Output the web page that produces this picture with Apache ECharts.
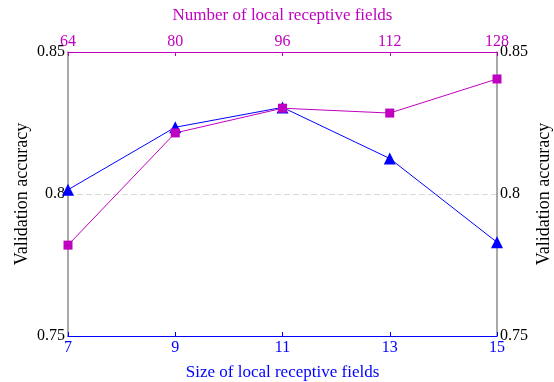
<!DOCTYPE html>
<html>
<head>
<meta charset="utf-8">
<script src="https://cdn.jsdelivr.net/npm/echarts@6/dist/echarts.min.js"></script>
<style>
  html, body { margin: 0; padding: 0; background: #fff; }
  #main { width: 554px; height: 382px; }
</style>
</head>
<body>
<div id="main"></div>
<script>
// bottom axis: size of local receptive fields
var sizes = [7, 9, 11, 13, 15];
var sizeAcc = [0.8015, 0.8235, 0.8305, 0.8125, 0.783];
// top axis: number of local receptive fields
var counts = [64, 80, 96, 112, 128];
var countAcc = [0.782, 0.8215, 0.8302, 0.8285, 0.8405];

var FONT = 'Liberation Serif';
var BLUE = '#0000ff';
var MAGENTA = '#c000c0';
var GREY = '#8c8c8c';

function pairs(xs, ys) {
  return xs.map(function (x, i) { return [x, ys[i]]; });
}

var myChart = echarts.init(document.getElementById('main'));

var yCommon = {
  type: 'value',
  min: 0.75,
  max: 0.85,
  interval: 0.05,
  name: 'Validation accuracy',
  nameLocation: 'middle',
  nameRotate: 90,
  nameMoveOverlap: false,
  nameTextStyle: { fontFamily: FONT, fontSize: 18, color: '#000' },
  axisLine: { show: true, lineStyle: { color: GREY, width: 1.5 } },
  axisTick: { show: false },
  axisLabel: { fontFamily: FONT, fontSize: 16, color: '#000', margin: 3 }
};

myChart.setOption({
  animation: false,
  grid: { left: 68, right: 57, top: 52, bottom: 46, outerBoundsMode: 'none' },
  xAxis: [{
    type: 'value',
    position: 'bottom',
    min: 7, max: 15, interval: 2,
    name: 'Size of local receptive fields',
    nameLocation: 'middle',
    nameGap: 28,
    nameTextStyle: { fontFamily: FONT, fontSize: 17, color: BLUE },
    axisLine: { lineStyle: { color: BLUE, width: 1 } },
    axisTick: { inside: true, length: 4, lineStyle: { color: BLUE } },
    axisLabel: { fontFamily: FONT, fontSize: 16, color: BLUE, margin: 4 },
    splitLine: { show: false }
  }, {
    type: 'value',
    position: 'top',
    min: 64, max: 128, interval: 16,
    name: 'Number of local receptive fields',
    nameLocation: 'middle',
    nameGap: 28,
    nameTextStyle: { fontFamily: FONT, fontSize: 17, color: MAGENTA },
    axisLine: { lineStyle: { color: MAGENTA, width: 1 } },
    axisTick: { inside: true, length: 4, lineStyle: { color: MAGENTA } },
    axisLabel: { fontFamily: FONT, fontSize: 16, color: MAGENTA, margin: 2 },
    splitLine: { show: false }
  }],
  yAxis: [
    Object.assign({}, yCommon, {
      position: 'left',
      nameGap: 37,
      splitLine: { show: true, lineStyle: { color: '#d8d8d8', type: [6, 3], width: 1 } }
    }),
    Object.assign({}, yCommon, {
      position: 'right',
      nameGap: 38,
      splitLine: { show: false }
    })
  ],
  series: [{
    name: 'size',
    type: 'line',
    xAxisIndex: 0,
    yAxisIndex: 0,
    data: pairs(sizes, sizeAcc),
    symbol: 'triangle',
    symbolSize: 12,
    itemStyle: { color: BLUE },
    lineStyle: { color: BLUE, width: 1 }
  }, {
    name: 'count',
    type: 'line',
    xAxisIndex: 1,
    yAxisIndex: 0,
    data: pairs(counts, countAcc),
    symbol: 'rect',
    symbolSize: 9,
    itemStyle: { color: MAGENTA },
    lineStyle: { color: MAGENTA, width: 1 }
  }]
});
</script>
</body>
</html>
